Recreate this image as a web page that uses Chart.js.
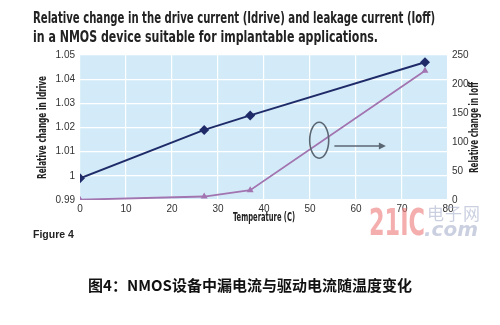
<!DOCTYPE html>
<html>
<head>
<meta charset="utf-8">
<script src="https://cdn.jsdelivr.net/npm/chart.js@4/dist/chart.umd.min.js"></script>
<style>
  html, body { margin: 0; padding: 0; background: #fff; }
  #wrap { position: relative; width: 500px; height: 325px; overflow: hidden; }
  #chart { position: absolute; left: 0; top: 0; }
  .fit { position: absolute; white-space: nowrap; transform-origin: 0 50%; }
  .head { font-family: "Liberation Sans Narrow", "DejaVu Sans Condensed", "Liberation Sans", sans-serif;
          font-weight: bold; font-size: 16px; color: #222; line-height: 18px; }
  #fig { left: 33px; top: 228px; font-family: "Liberation Sans", sans-serif; font-weight: bold;
         font-size: 10.5px; color: #222; }
  #caption { position: absolute; left: 0; width: 500px; top: 276px; text-align: center;
             font-family: "Noto Sans CJK SC", sans-serif; font-weight: bold; font-size: 15px;
             color: #111; line-height: 18px; }
  #wm21 { left: 369px; top: 203px; font-family: "DejaVu Sans Condensed", "Liberation Sans", sans-serif;
          font-weight: bold; font-size: 37px; color: rgba(236,120,120,0.6); line-height: 40px; }
  #wmcn { left: 427px; top: 203px; font-family: "Noto Sans CJK SC", sans-serif; font-size: 17px;
          color: rgba(160,170,200,0.55); line-height: 20px; letter-spacing: 1px; }
  #wmcom { left: 424px; top: 218px; font-family: "DejaVu Sans", sans-serif; font-style: italic;
           font-weight: bold; font-size: 20px; color: rgba(160,170,200,0.55); line-height: 22px; }
</style>
</head>
<body>
<div id="wrap">
  <canvas id="chart" width="500" height="325"></canvas>
  <div class="fit head" id="t1" data-w="402" style="left:33px; top:9px;">Relative change in the drive current (Idrive) and leakage current (Ioff)</div>
  <div class="fit head" id="t2" data-w="345" style="left:33px; top:28px;">in a NMOS device suitable for implantable applications.</div>
  <div class="fit" id="fig">Figure 4</div>
  <div class="fit" id="wm21" data-w="56">21IC</div>
  <div class="fit" id="wmcn" data-w="54">电子网</div>
  <div class="fit" id="wmcom" data-w="54">.com</div>
  <div id="caption">图4：NMOS设备中漏电流与驱动电流随温度变化</div>
</div>
<script>
// Temperature (C) at each measurement
const temperatures = [0, 27, 37, 75];
// Drive current relative to its value at 0 C (left axis)
const idriveChange = [0.999, 1.019, 1.025, 1.047];
// Leakage current relative to its value at 0 C (right axis)
const ioffChange = [0.5, 6, 17, 223];
// Axis tick settings
const tempTicks = { min: 0, max: 80, step: 10 };
const idriveTicks = { min: 0.99, max: 1.05, step: 0.01 };
const ioffTicks = { min: 0, max: 250, step: 50 };
// Axis titles
const xTitle = 'Temperature (C)';
const yTitle = 'Relative change in Idrive';
const y1Title = 'Relative change in Ioff';

// squeeze the condensed headline texts to their set widths
document.querySelectorAll('.fit[data-w]').forEach(el => {
  const target = parseFloat(el.dataset.w);
  const w = el.getBoundingClientRect().width;
  if (w > 0) el.style.transform = 'scaleX(' + (target / w) + ')';
});

const navy = '#1f2b69';
const mauve = '#a274b0';
const plotBg = '#d3ebf8';
const tickFont = { family: 'Liberation Sans, sans-serif', size: 10 };
const titleCss = 'bold 12px "Liberation Sans Narrow", "DejaVu Sans Condensed", sans-serif';

const toPoints = (xs, ys) => xs.map((x, i) => ({ x: x, y: ys[i] }));

// light blue plot background
const plotBackground = {
  id: 'plotBackground',
  beforeDraw(chart) {
    const { ctx, chartArea: a } = chart;
    ctx.save();
    ctx.fillStyle = plotBg;
    ctx.fillRect(a.left, a.top, a.right - a.left, a.bottom - a.top);
    ctx.restore();
  }
};

// draws a condensed text centred at (x, y), squeezed to a given length
function drawCondensed(ctx, text, x, y, angle, length) {
  ctx.save();
  ctx.translate(x, y);
  ctx.rotate(angle);
  ctx.font = titleCss;
  const w = ctx.measureText(text).width;
  ctx.scale(length / w, 1);
  ctx.fillStyle = '#222';
  ctx.textAlign = 'center';
  ctx.textBaseline = 'middle';
  ctx.fillText(text, 0, 0);
  ctx.restore();
}

// ellipse around the Ioff curve with an arrow pointing to its axis,
// plus the three axis titles
const ioffCallout = {
  id: 'ioffCallout',
  afterDatasetsDraw(chart) {
    const { ctx, scales } = chart;
    const cx = scales.x.getPixelForValue(52);
    const cy = scales.y1.getPixelForValue(103);
    const ax0 = scales.x.getPixelForValue(55.3);
    const ax1 = scales.x.getPixelForValue(66.5);
    const ay = scales.y1.getPixelForValue(93);
    ctx.save();
    ctx.strokeStyle = '#5b6673';
    ctx.fillStyle = '#5b6673';
    ctx.lineWidth = 1.6;
    ctx.beginPath();
    ctx.ellipse(cx, cy, 9.5, 18, 0, 0, Math.PI * 2);
    ctx.stroke();
    ctx.beginPath();
    ctx.moveTo(ax0, ay);
    ctx.lineTo(ax1 - 5, ay);
    ctx.stroke();
    ctx.beginPath();
    ctx.moveTo(ax1, ay);
    ctx.lineTo(ax1 - 7, ay - 3.5);
    ctx.lineTo(ax1 - 7, ay + 3.5);
    ctx.closePath();
    ctx.fill();
    ctx.restore();
  },
  afterDraw(chart) {
    const { ctx, scales, chartArea: a } = chart;
    const midY = (a.top + a.bottom) / 2;
    drawCondensed(ctx, yTitle, scales.y.left + 43, midY, -Math.PI / 2, 103);
    drawCondensed(ctx, y1Title, scales.y1.right - 25, midY, -Math.PI / 2, 91);
    drawCondensed(ctx, xTitle, (a.left + a.right) / 2, a.bottom + 18, 0, 62);
  }
};

new Chart(document.getElementById('chart'), {
  type: 'line',
  data: {
    datasets: [
      {
        label: 'Idrive',
        data: toPoints(temperatures, idriveChange),
        yAxisID: 'y',
        borderColor: navy,
        backgroundColor: navy,
        borderWidth: 2,
        pointStyle: 'rectRot',
        pointRadius: 5,
        pointBorderWidth: 0,
        tension: 0
      },
      {
        label: 'Ioff',
        data: toPoints(temperatures, ioffChange),
        yAxisID: 'y1',
        borderColor: mauve,
        backgroundColor: mauve,
        borderWidth: 1.8,
        pointStyle: 'triangle',
        pointRadius: 4,
        pointBorderWidth: 0,
        tension: 0
      }
    ]
  },
  options: {
    responsive: false,
    animation: false,
    devicePixelRatio: 1,
    layout: { padding: { top: 55, left: 0, right: 0, bottom: 0 } },
    plugins: { legend: { display: false }, tooltip: { enabled: false } },
    scales: {
      x: {
        type: 'linear',
        min: tempTicks.min, max: tempTicks.max,
        ticks: { stepSize: tempTicks.step, font: tickFont, color: '#333', padding: 3, maxRotation: 0 },
        grid: { color: '#ffffff', lineWidth: 1.2, drawTicks: false },
        border: { display: false },
        afterFit(s) { s.height = 125; }
      },
      y: {
        position: 'left',
        min: idriveTicks.min, max: idriveTicks.max,
        ticks: { stepSize: idriveTicks.step, font: tickFont, color: '#333', padding: 5,
                 callback: v => String(+v.toFixed(2)) },
        grid: { color: '#ffffff', lineWidth: 1.2, drawTicks: false },
        border: { display: false },
        afterFit(s) { s.width = 80; }
      },
      y1: {
        position: 'right',
        min: ioffTicks.min, max: ioffTicks.max,
        ticks: { stepSize: ioffTicks.step, font: tickFont, color: '#333', padding: 4 },
        grid: { drawOnChartArea: false, drawTicks: false },
        border: { display: false },
        afterFit(s) { s.width = 52; }
      }
    }
  },
  plugins: [plotBackground, ioffCallout]
});
</script>
</body>
</html>
